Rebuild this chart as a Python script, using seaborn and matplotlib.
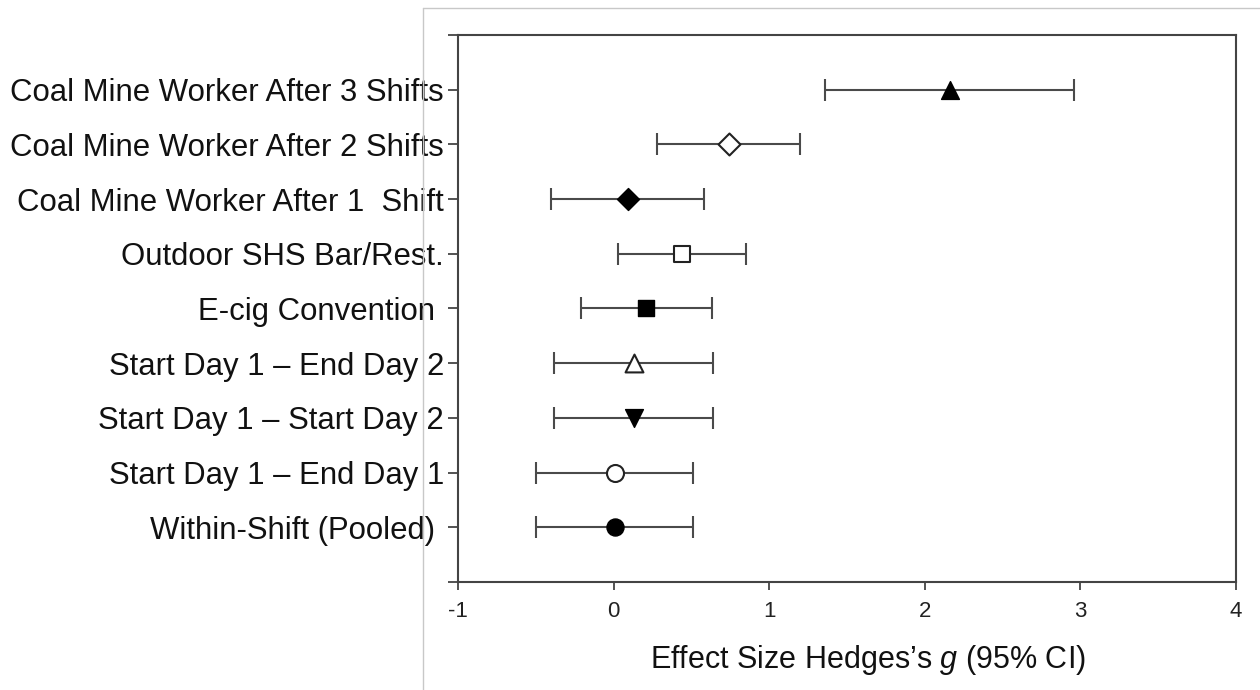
import matplotlib
matplotlib.use("Agg")
import matplotlib.pyplot as plt
from matplotlib.lines import Line2D
import seaborn as sns
import pandas as pd
import numpy as np

# ---- data (top to bottom as in the chart) ----
labels = [
    "Coal Mine Worker After 3 Shifts",
    "Coal Mine Worker After 2 Shifts",
    "Coal Mine Worker After 1  Shift",
    "Outdoor SHS Bar/Rest.",
    "E-cig Convention ",
    "Start Day 1 \u2013 End Day 2",
    "Start Day 1 \u2013 Start Day 2",
    "Start Day 1 \u2013 End Day 1",
    "Within-Shift (Pooled) ",
]
effect = [2.16, 0.74, 0.09, 0.44, 0.21, 0.13, 0.13, 0.01, 0.01]
ci_low = [1.36, 0.28, -0.40, 0.03, -0.21, -0.38, -0.38, -0.50, -0.50]
ci_high = [2.96, 1.20, 0.58, 0.85, 0.63, 0.64, 0.64, 0.51, 0.51]
markers = ["^", "D", "D", "s", "s", "^", "v", "o", "o"]
filled = [True, False, True, False, True, False, True, False, True]
xticks = [-1, 0, 1, 2, 3, 4]

marker_size = {"^": 165, "v": 165, "D": 125, "s": 135, "o": 150}

df = pd.DataFrame({
    "label": labels,
    "g": effect,
    "lo": ci_low,
    "hi": ci_high,
    "marker": markers,
    "filled": filled,
})
df["y"] = np.arange(len(df))[::-1]

sns.set_style("ticks")
plt.rcParams["font.family"] = ["Liberation Sans", "DejaVu Sans"]
plt.rcParams["mathtext.fontset"] = "custom"
plt.rcParams["mathtext.it"] = "Liberation Sans:italic"
plt.rcParams["mathtext.rm"] = "Liberation Sans"

fig = plt.figure(figsize=(12.6, 6.9), dpi=100)
ax = fig.add_axes([458 / 1260, 1 - 582 / 690, (1236 - 458) / 1260, (582 - 35) / 690])

ecol = "#4a4a4a"
ax.errorbar(df["g"], df["y"], xerr=[df["g"] - df["lo"], df["hi"] - df["g"]],
            fmt="none", ecolor=ecol, elinewidth=1.5, capsize=8, capthick=1.5, zorder=2)

for _, r in df.iterrows():
    if r["filled"]:
        sns.scatterplot(x=[r["g"]], y=[r["y"]], marker=r["marker"], s=marker_size[r["marker"]],
                        color="black", edgecolor="black", linewidth=1.0, ax=ax, zorder=3, legend=False)
    else:
        sns.scatterplot(x=[r["g"]], y=[r["y"]], marker=r["marker"], s=marker_size[r["marker"]],
                        facecolor="white", edgecolor="#222222", linewidth=1.5, ax=ax, zorder=3, legend=False)

ax.set_xlim(-1, 4)
ax.set_ylim(-1, 9)
ax.set_xticks(xticks)
ax.set_xticklabels([str(t) for t in xticks], fontsize=16)
yt = [-1] + list(df["y"][::-1]) + [9]
ax.set_yticks(yt)
ax.set_yticklabels([""] + list(df["label"][::-1]) + [""], fontsize=22.4)
ax.tick_params(axis="y", length=7, width=1.3, color="#444444", pad=3, labelcolor="#111111")
ax.tick_params(axis="x", length=6, width=1.3, color="#444444", pad=8, labelcolor="#222222")
for sp in ax.spines.values():
    sp.set_visible(True)
    sp.set_color("#444444")
    sp.set_linewidth(1.5)

ax.set_xlabel("Effect Size Hedges\u2019s $\\it{g}$ (95% CI)", fontsize=22, color="#111111")
ax.xaxis.label.set_va("baseline")
ax.xaxis.set_label_coords((868 - 458) / (1236 - 458), (582 - 668) / (582 - 35))

# light gray frame of the panel
fx = 423 / 1260
fy = 1 - 8 / 690
fig.add_artist(Line2D([fx, fx], [0, fy], transform=fig.transFigure, color="#c8c8c8", lw=1))
fig.add_artist(Line2D([fx, 1], [fy, fy], transform=fig.transFigure, color="#c8c8c8", lw=1))

fig.savefig("out.png", dpi=100, facecolor="white")
